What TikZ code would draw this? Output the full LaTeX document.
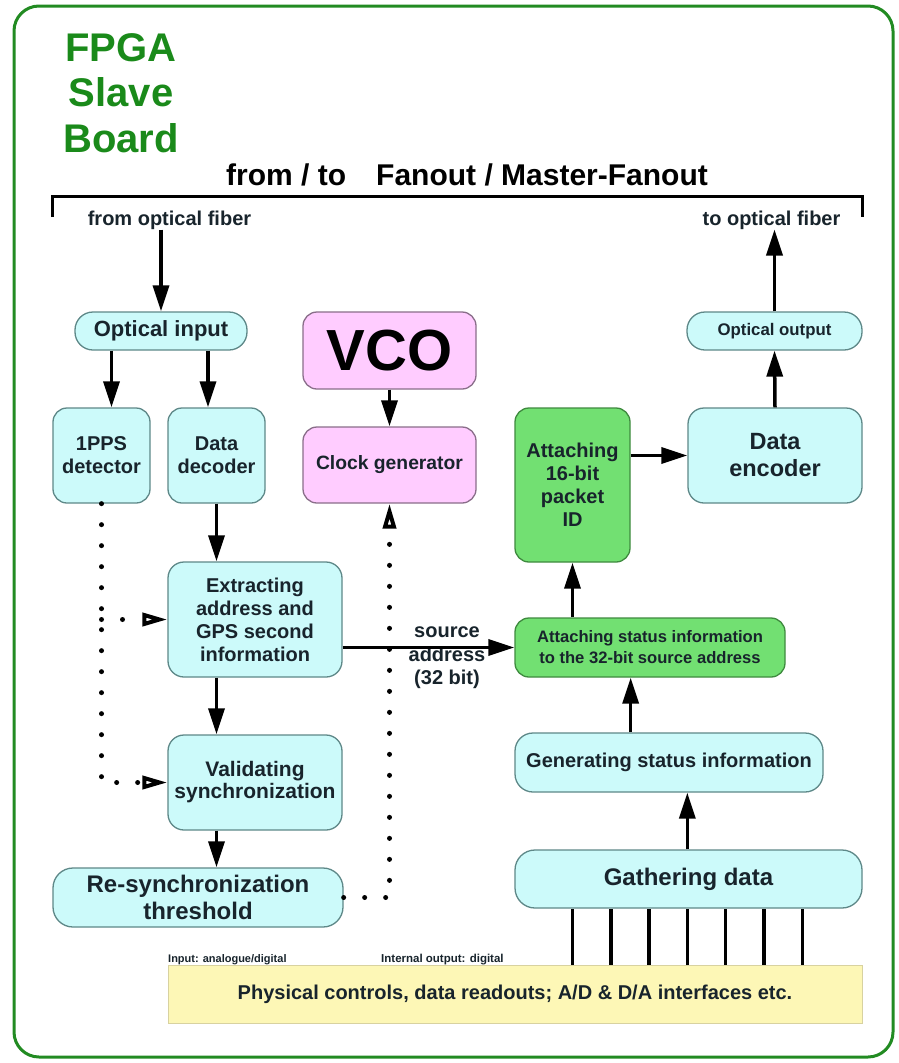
\documentclass[tikz,border=0pt]{standalone}
\usepackage{fontspec}
\setmainfont{Liberation Sans}
\usetikzlibrary{arrows.meta,calc}

\definecolor{framegreen}{HTML}{228B22}
\definecolor{titlegreen}{HTML}{1A8A1A}
\definecolor{cyanfill}{HTML}{CCFAFA}
\definecolor{cyanline}{HTML}{5E8888}
\definecolor{pinkfill}{HTML}{FFCCFF}
\definecolor{pinkline}{HTML}{8A6E8A}
\definecolor{greenfill}{HTML}{72E072}
\definecolor{greenline}{HTML}{3E8A3E}
\definecolor{yellowfill}{HTML}{FDF7B6}
\definecolor{yellowline}{HTML}{D8D2A0}
\definecolor{ink}{HTML}{18242C}

\newcommand\bfsz[2]{\fontsize{#1}{#2}\selectfont\bfseries}

\begin{document}
\begin{tikzpicture}[x=1pt,y=-1pt,
  every node/.style={inner sep=0pt, text=ink},
  box/.style={draw, line width=1.3pt, align=center},
  cyanbox/.style={box, fill=cyanfill, draw=cyanline},
  pinkbox/.style={box, fill=pinkfill, draw=pinkline},
  greenbox/.style={box, fill=greenfill, draw=greenline},
  wh/.style 2 args={minimum width=#1pt, minimum height=#2pt},
  arr/.style={line width=3.5pt, -{Triangle[length=26pt,width=16pt]}},
  wire/.style={line width=3.5pt},
  dotline/.style={line width=5pt, line cap=round, dash pattern=on 0pt off 21pt},
  openarr/.style={dotline, -{Triangle[open, length=25pt, width=13pt, line width=4pt, fill=white]}}
]
% canvas
\useasboundingbox (0,0) rectangle (898,1063);
\fill[white] (0,0) rectangle (898,1063);
\draw[framegreen, line width=3pt, rounded corners=25pt] (14,6) rectangle (893,1057);

% title and header
\node[font=\bfsz{40}{45.5}, text=titlegreen, align=center] (title) at (121,93) {FPGA\\Slave\\Board};
\node[font=\bfsz{30}{34}, anchor=base west, text=black] (hdr) at (226,185) {from / to\hspace{30pt}Fanout / Master-Fanout};
\draw[line width=3pt] (52,217) -- (52,196) -- (862,196) -- (862,217);
\node[font=\bfsz{20}{24}] (fromfib) at (169.5,220) {from optical fiber};
\node[font=\bfsz{20}{24}] (tofib) at (771.5,220) {to optical fiber};

% receive chain
\node[cyanbox, wh={172}{38}, rounded corners=18pt, font=\bfsz{22}{26}] (optin) at (161,331) {Optical input};
\node[cyanbox, wh={97}{95}, rounded corners=14pt, font=\bfsz{20}{23}] (pps) at (101.5,455.5) {1PPS\\detector};
\node[cyanbox, wh={97}{95}, rounded corners=14pt, font=\bfsz{20}{23}] (dec) at (216.5,455.5) {Data\\decoder};
\node[cyanbox, wh={174}{115}, rounded corners=16pt, font=\bfsz{20}{23}] (extract) at (255,619.5) {Extracting\\address and\\GPS second\\information};
\node[cyanbox, wh={174}{95}, rounded corners=16pt, font=\bfsz{21}{22}] (valid) at (255,782.5) {Validating\\synchronization};
\node[cyanbox, wh={290}{59}, rounded corners=20pt, font=\bfsz{24}{27}] (resync) at (198,897.5) {Re-synchronization\\threshold};

% clock
\node[pinkbox, wh={173}{77}, rounded corners=14pt, font=\bfsz{58}{60}, text=black] (vco) at (389.5,350.5) {VCO};
\node[pinkbox, wh={173}{76}, rounded corners=14pt, font=\bfsz{19.3}{23}] (clock) at (389.5,465) {Clock generator};

% transmit chain
\node[greenbox, wh={115}{154}, rounded corners=14pt, font=\bfsz{20}{23}] (pkt) at (572.5,485) {Attaching\\16-bit\\packet\\ID};
\node[cyanbox, wh={174}{95}, rounded corners=16pt, font=\bfsz{23.5}{27}] (enc) at (775,455.5) {Data\\encoder};
\node[cyanbox, wh={175}{38}, rounded corners=18pt, font=\bfsz{16.8}{20}] (outopt) at (774.5,331) {Optical output};
\node[greenbox, wh={270}{59}, rounded corners=14pt, font=\bfsz{16.6}{21}] (status) at (650,647.5) {Attaching status information\\to the 32-bit source address};
\node[cyanbox, wh={308}{59}, rounded corners=18pt, font=\bfsz{20}{24}] (gen) at (669,762.5) {Generating status information};
\node[cyanbox, wh={347}{58}, rounded corners=20pt, font=\bfsz{24}{28}] (gather) at (688.5,879) {Gathering data};

% physical interface
\node[draw=yellowline, fill=yellowfill, line width=1pt, wh={694}{58}, font=\bfsz{20}{24}] (phys) at (515,994) {Physical controls, data readouts; A/D \& D/A interfaces etc.};
\node[font=\bfsz{11}{13}, anchor=base west] (inlbl) at (168,962) {Input: analogue/digital};
\node[font=\bfsz{11.5}{13}, anchor=base west] (outlbl) at (381,962) {Internal output: digital};
\node[font=\bfsz{20}{23.5}, align=center] (srclbl) at (447,658) {source\\address\\(32 bit)};

% solid connectors
\coordinate (ppsin) at ($(pps.north)+(10,0)$);
\coordinate (decin) at ($(dec.north)+(-8.5,0)$);
\draw[arr] (fromfib.south -| optin.north) -- (optin.north);
\draw[arr] (ppsin |- optin.south) -- (ppsin);
\draw[arr] (decin |- optin.south) -- (decin);
\draw[arr] (vco) -- (clock);
\draw[arr] (dec.south) -- (dec.south |- extract.north);
\draw[arr] (dec.south |- extract.south) -- (dec.south |- valid.north);
\draw[arr] (dec.south |- valid.south) -- (dec.south |- resync.north);
\draw[arr] (extract.east |- status.west) -- (status.west);
\draw[arr] (pkt.south |- status.north) -- (pkt.south);
\draw[arr] (pkt.east |- enc.west) -- (enc.west);
\draw[arr] (enc.north) -- (outopt.south);
\draw[arr] (outopt.north) -- (outopt.north |- tofib.south);
\draw[arr] (pkt.east |- gen.north) -- (pkt.east |- status.south);
\draw[arr] (enc.west |- gather.north) -- (enc.west |- gen.south);
\foreach \i in {0,...,6}
  \draw[wire] ($(pkt.south |- phys.north)+(\i*38.3,0)$) -- ($(pkt.south |- gather.south)+(\i*38.3,0)$);

% dotted control paths
\draw[openarr] (pps.south) -- (pps.south |- valid.west) -- (valid.west);
\draw[openarr] (pps.south |- extract.west) -- (extract.west);
\draw[openarr] (resync.east) -- (resync.east -| clock.south) -- (clock.south);
\end{tikzpicture}
\end{document}
